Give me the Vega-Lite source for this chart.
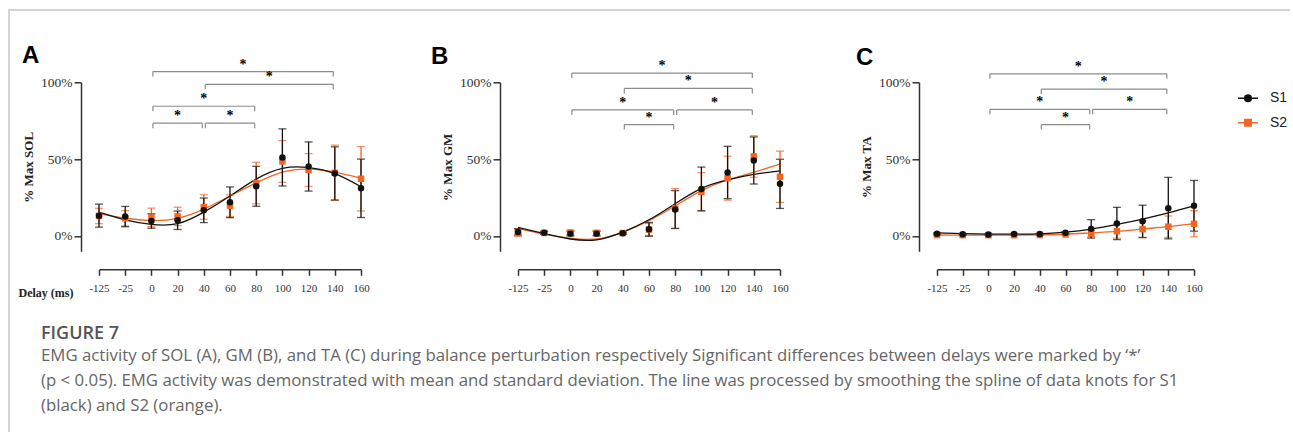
{
  "$schema": "https://vega.github.io/schema/vega-lite/v6.json",
  "background": "white",
  "padding": {"left": 8, "top": 9, "right": 0, "bottom": 0},
  "config": {
    "view": {"stroke": null},
    "font": "Liberation Serif",
    "axis": {
      "domainColor": "#333333", "domainWidth": 1.5, "tickColor": "#333333", "tickWidth": 1.5,
      "labelFont": "Liberation Serif", "labelColor": "#333333", "grid": false,
      "titleFont": "Liberation Serif", "titleFontWeight": "bold", "titleColor": "#222222"
    }
  },
  "datasets": {
    "points": [
      {"panel": "A", "group": "S2", "delay": -125, "mean": 13.0, "sd": 5.0},
      {"panel": "A", "group": "S2", "delay": -25, "mean": 11.5, "sd": 5.0},
      {"panel": "A", "group": "S2", "delay": 0, "mean": 12.1, "sd": 6.0},
      {"panel": "A", "group": "S2", "delay": 20, "mean": 12.7, "sd": 6.0},
      {"panel": "A", "group": "S2", "delay": 40, "mean": 18.8, "sd": 8.0},
      {"panel": "A", "group": "S2", "delay": 60, "mean": 19.7, "sd": 7.0},
      {"panel": "A", "group": "S2", "delay": 80, "mean": 34.4, "sd": 13.5},
      {"panel": "A", "group": "S2", "delay": 100, "mean": 48.5, "sd": 13.6},
      {"panel": "A", "group": "S2", "delay": 120, "mean": 42.9, "sd": 10.7},
      {"panel": "A", "group": "S2", "delay": 140, "mean": 41.1, "sd": 18.0},
      {"panel": "A", "group": "S2", "delay": 160, "mean": 37.2, "sd": 21.0},
      {"panel": "A", "group": "S1", "delay": -125, "mean": 13.2, "sd": 7.5},
      {"panel": "A", "group": "S1", "delay": -25, "mean": 12.6, "sd": 6.6},
      {"panel": "A", "group": "S1", "delay": 0, "mean": 9.7, "sd": 4.7},
      {"panel": "A", "group": "S1", "delay": 20, "mean": 10.2, "sd": 6.0},
      {"panel": "A", "group": "S1", "delay": 40, "mean": 16.7, "sd": 8.0},
      {"panel": "A", "group": "S1", "delay": 60, "mean": 21.9, "sd": 10.0},
      {"panel": "A", "group": "S1", "delay": 80, "mean": 32.3, "sd": 13.0},
      {"panel": "A", "group": "S1", "delay": 100, "mean": 51.1, "sd": 18.6},
      {"panel": "A", "group": "S1", "delay": 120, "mean": 45.2, "sd": 16.0},
      {"panel": "A", "group": "S1", "delay": 140, "mean": 40.7, "sd": 17.3},
      {"panel": "A", "group": "S1", "delay": 160, "mean": 31.0, "sd": 19.0},
      {"panel": "B", "group": "S2", "delay": -125, "mean": 2.2, "sd": 2.5},
      {"panel": "B", "group": "S2", "delay": -25, "mean": 2.0, "sd": 1.0},
      {"panel": "B", "group": "S2", "delay": 0, "mean": 2.2, "sd": 1.5},
      {"panel": "B", "group": "S2", "delay": 20, "mean": 2.0, "sd": 1.5},
      {"panel": "B", "group": "S2", "delay": 40, "mean": 1.9, "sd": 0.6},
      {"panel": "B", "group": "S2", "delay": 60, "mean": 4.1, "sd": 4.0},
      {"panel": "B", "group": "S2", "delay": 80, "mean": 17.8, "sd": 13.0},
      {"panel": "B", "group": "S2", "delay": 100, "mean": 28.7, "sd": 12.5},
      {"panel": "B", "group": "S2", "delay": 120, "mean": 37.6, "sd": 14.3},
      {"panel": "B", "group": "S2", "delay": 140, "mean": 51.7, "sd": 13.5},
      {"panel": "B", "group": "S2", "delay": 160, "mean": 38.5, "sd": 16.7},
      {"panel": "B", "group": "S1", "delay": -125, "mean": 2.6, "sd": 2.0},
      {"panel": "B", "group": "S1", "delay": -25, "mean": 2.0, "sd": 1.0},
      {"panel": "B", "group": "S1", "delay": 0, "mean": 1.5, "sd": 1.5},
      {"panel": "B", "group": "S1", "delay": 20, "mean": 1.5, "sd": 1.5},
      {"panel": "B", "group": "S1", "delay": 40, "mean": 1.7, "sd": 0.6},
      {"panel": "B", "group": "S1", "delay": 60, "mean": 4.3, "sd": 4.5},
      {"panel": "B", "group": "S1", "delay": 80, "mean": 17.2, "sd": 12.3},
      {"panel": "B", "group": "S1", "delay": 100, "mean": 30.6, "sd": 14.2},
      {"panel": "B", "group": "S1", "delay": 120, "mean": 41.3, "sd": 17.0},
      {"panel": "B", "group": "S1", "delay": 140, "mean": 49.1, "sd": 15.3},
      {"panel": "B", "group": "S1", "delay": 160, "mean": 33.9, "sd": 16.0},
      {"panel": "C", "group": "S2", "delay": -125, "mean": 0.6, "sd": 0.3},
      {"panel": "C", "group": "S2", "delay": -25, "mean": 0.5, "sd": 0.3},
      {"panel": "C", "group": "S2", "delay": 0, "mean": 0.5, "sd": 0.3},
      {"panel": "C", "group": "S2", "delay": 20, "mean": 0.5, "sd": 0.3},
      {"panel": "C", "group": "S2", "delay": 40, "mean": 0.6, "sd": 0.3},
      {"panel": "C", "group": "S2", "delay": 60, "mean": 1.0, "sd": 0.6},
      {"panel": "C", "group": "S2", "delay": 80, "mean": 1.6, "sd": 2.0},
      {"panel": "C", "group": "S2", "delay": 100, "mean": 3.1, "sd": 4.5},
      {"panel": "C", "group": "S2", "delay": 120, "mean": 4.4, "sd": 5.5},
      {"panel": "C", "group": "S2", "delay": 140, "mean": 6.0, "sd": 7.0},
      {"panel": "C", "group": "S2", "delay": 160, "mean": 7.9, "sd": 8.5},
      {"panel": "C", "group": "S1", "delay": -125, "mean": 1.5, "sd": 0.5},
      {"panel": "C", "group": "S1", "delay": -25, "mean": 1.1, "sd": 0.4},
      {"panel": "C", "group": "S1", "delay": 0, "mean": 1.0, "sd": 0.4},
      {"panel": "C", "group": "S1", "delay": 20, "mean": 1.2, "sd": 0.4},
      {"panel": "C", "group": "S1", "delay": 40, "mean": 1.2, "sd": 0.4},
      {"panel": "C", "group": "S1", "delay": 60, "mean": 2.0, "sd": 0.8},
      {"panel": "C", "group": "S1", "delay": 80, "mean": 4.6, "sd": 6.0},
      {"panel": "C", "group": "S1", "delay": 100, "mean": 8.1, "sd": 10.5},
      {"panel": "C", "group": "S1", "delay": 120, "mean": 9.5, "sd": 10.5},
      {"panel": "C", "group": "S1", "delay": 140, "mean": 18.1, "sd": 20.0},
      {"panel": "C", "group": "S1", "delay": 160, "mean": 19.6, "sd": 16.5}
    ],
    "fits": [
      {"panel": "A", "group": "S2", "delay": -125, "fit": 14.5},
      {"panel": "A", "group": "S2", "delay": -25, "fit": 11.5},
      {"panel": "A", "group": "S2", "delay": 0, "fit": 10.0},
      {"panel": "A", "group": "S2", "delay": 20, "fit": 11.5},
      {"panel": "A", "group": "S2", "delay": 40, "fit": 17.5},
      {"panel": "A", "group": "S2", "delay": 60, "fit": 26.0},
      {"panel": "A", "group": "S2", "delay": 80, "fit": 34.5},
      {"panel": "A", "group": "S2", "delay": 100, "fit": 41.5},
      {"panel": "A", "group": "S2", "delay": 120, "fit": 43.5},
      {"panel": "A", "group": "S2", "delay": 140, "fit": 41.5},
      {"panel": "A", "group": "S2", "delay": 160, "fit": 37.5},
      {"panel": "A", "group": "S1", "delay": -125, "fit": 15.5},
      {"panel": "A", "group": "S1", "delay": -25, "fit": 10.5},
      {"panel": "A", "group": "S1", "delay": 0, "fit": 7.5},
      {"panel": "A", "group": "S1", "delay": 20, "fit": 8.0},
      {"panel": "A", "group": "S1", "delay": 40, "fit": 15.5},
      {"panel": "A", "group": "S1", "delay": 60, "fit": 26.0},
      {"panel": "A", "group": "S1", "delay": 80, "fit": 37.0},
      {"panel": "A", "group": "S1", "delay": 100, "fit": 44.0},
      {"panel": "A", "group": "S1", "delay": 120, "fit": 44.5},
      {"panel": "A", "group": "S1", "delay": 140, "fit": 40.5},
      {"panel": "A", "group": "S1", "delay": 160, "fit": 32.0},
      {"panel": "B", "group": "S2", "delay": -125, "fit": 5.0},
      {"panel": "B", "group": "S2", "delay": -25, "fit": 1.2},
      {"panel": "B", "group": "S2", "delay": 0, "fit": -1.5},
      {"panel": "B", "group": "S2", "delay": 20, "fit": -2.0},
      {"panel": "B", "group": "S2", "delay": 40, "fit": 2.5},
      {"panel": "B", "group": "S2", "delay": 60, "fit": 10.0},
      {"panel": "B", "group": "S2", "delay": 80, "fit": 19.5},
      {"panel": "B", "group": "S2", "delay": 100, "fit": 29.5},
      {"panel": "B", "group": "S2", "delay": 120, "fit": 36.5},
      {"panel": "B", "group": "S2", "delay": 140, "fit": 41.5},
      {"panel": "B", "group": "S2", "delay": 160, "fit": 46.7},
      {"panel": "B", "group": "S1", "delay": -125, "fit": 5.5},
      {"panel": "B", "group": "S1", "delay": -25, "fit": 1.5},
      {"panel": "B", "group": "S1", "delay": 0, "fit": -2.0},
      {"panel": "B", "group": "S1", "delay": 20, "fit": -2.5},
      {"panel": "B", "group": "S1", "delay": 40, "fit": 2.5},
      {"panel": "B", "group": "S1", "delay": 60, "fit": 10.5},
      {"panel": "B", "group": "S1", "delay": 80, "fit": 21.0},
      {"panel": "B", "group": "S1", "delay": 100, "fit": 31.0},
      {"panel": "B", "group": "S1", "delay": 120, "fit": 36.5},
      {"panel": "B", "group": "S1", "delay": 140, "fit": 40.0},
      {"panel": "B", "group": "S1", "delay": 160, "fit": 42.4},
      {"panel": "C", "group": "S2", "delay": -125, "fit": 0.6},
      {"panel": "C", "group": "S2", "delay": -25, "fit": 0.5},
      {"panel": "C", "group": "S2", "delay": 0, "fit": 0.5},
      {"panel": "C", "group": "S2", "delay": 20, "fit": 0.5},
      {"panel": "C", "group": "S2", "delay": 40, "fit": 0.7},
      {"panel": "C", "group": "S2", "delay": 60, "fit": 1.1},
      {"panel": "C", "group": "S2", "delay": 80, "fit": 2.0},
      {"panel": "C", "group": "S2", "delay": 100, "fit": 3.0},
      {"panel": "C", "group": "S2", "delay": 120, "fit": 4.5},
      {"panel": "C", "group": "S2", "delay": 140, "fit": 6.0},
      {"panel": "C", "group": "S2", "delay": 160, "fit": 8.0},
      {"panel": "C", "group": "S1", "delay": -125, "fit": 2.0},
      {"panel": "C", "group": "S1", "delay": -25, "fit": 1.5},
      {"panel": "C", "group": "S1", "delay": 0, "fit": 1.2},
      {"panel": "C", "group": "S1", "delay": 20, "fit": 1.2},
      {"panel": "C", "group": "S1", "delay": 40, "fit": 1.4},
      {"panel": "C", "group": "S1", "delay": 60, "fit": 2.5},
      {"panel": "C", "group": "S1", "delay": 80, "fit": 4.5},
      {"panel": "C", "group": "S1", "delay": 100, "fit": 7.5},
      {"panel": "C", "group": "S1", "delay": 120, "fit": 11.0},
      {"panel": "C", "group": "S1", "delay": 140, "fit": 15.0},
      {"panel": "C", "group": "S1", "delay": 160, "fit": 19.5}
    ],
    "brackets": [
      {"panel": "A", "from": 0, "to": 140, "level": 107},
      {"panel": "A", "from": 40, "to": 140, "level": 98.7},
      {"panel": "A", "from": 0, "to": 80, "level": 84.4},
      {"panel": "A", "from": 0, "to": 40, "level": 73.4},
      {"panel": "A", "from": 40, "to": 80, "level": 73.4},
      {"panel": "B", "from": 0, "to": 140, "level": 106},
      {"panel": "B", "from": 40, "to": 140, "level": 96},
      {"panel": "B", "from": 0, "to": 80, "level": 82},
      {"panel": "B", "from": 80, "to": 140, "level": 82},
      {"panel": "B", "from": 40, "to": 80, "level": 72.5},
      {"panel": "C", "from": 0, "to": 140, "level": 105.5},
      {"panel": "C", "from": 40, "to": 140, "level": 95.6},
      {"panel": "C", "from": 0, "to": 80, "level": 82.4},
      {"panel": "C", "from": 80, "to": 140, "level": 82.4},
      {"panel": "C", "from": 40, "to": 80, "level": 72.5}
    ]
  },
  "bounds": "flush",
  "spacing": 0,
  "hconcat": [
    {
      "width": 1, "height": 422,
      "view": {"stroke": "#d4d4d4", "strokeWidth": 2, "strokeDash": [1, 423, 422]},
      "data": {"values": []},
      "mark": "point",
      "encoding": {},
      "title": {
        "text": "FIGURE 7",
        "subtitle": [
          "EMG activity of SOL (A), GM (B), and TA (C) during balance perturbation respectively Significant differences between delays were marked by ‘*’",
          "(p < 0.05). EMG activity was demonstrated with mean and standard deviation. The line was processed by smoothing the spline of data knots for S1",
          "(black) and S2 (orange)."
        ],
        "orient": "bottom", "anchor": "start", "frame": "group", "offset": -107, "dx": 32, "limit": 0,
        "font": "Open Sans", "fontSize": 18, "fontWeight": 600, "color": "#555555",
        "subtitleFont": "Open Sans", "subtitleFontSize": 16.8, "subtitleColor": "#666666",
        "subtitleLineHeight": 25, "subtitlePadding": 5
      }
    },
    {
      "bounds": "flush",
      "spacing": 71.3,
      "vconcat": [
        {
          "width": 1280, "height": 1,
          "view": {"stroke": "#d4d4d4", "strokeWidth": 2, "strokeDash": [1280, 1282]},
          "data": {"values": []},
          "mark": "point",
          "encoding": {}
        },
        {
          "bounds": "flush",
          "spacing": 88,
          "hconcat": [
            {"width": 1, "height": 1, "data": {"values": []}, "mark": "point", "encoding": {}},
            {
              "bounds": "flush",
              "spacing": 157,
              "resolve": {"scale": {"color": "independent"}, "legend": {"color": "independent"}},
              "hconcat": [
                {
                  "width": 262, "height": 169,
                  "title": {"text": "A", "anchor": "start", "frame": "group", "font": "Liberation Sans", "fontSize": 24, "fontWeight": "bold", "color": "#000000", "dx": -77, "offset": -10},
                  "resolve": {"scale": {"x": "independent"}},
                  "layer": [
                    {
                      "layer": [
                        {
                          "data": {"name": "fits"}, "transform": [{"filter": "datum.panel === 'A'"}],
                          "mark": {"type": "line", "interpolate": "natural", "strokeWidth": 1.3},
                          "encoding": {
                            "x": {"field": "delay", "type": "ordinal", "scale": {"type": "point", "padding": 0}, "axis": {"offset": 18, "labelAngle": 0, "labelFontSize": 11, "tickSize": 6, "labelPadding": 7, "title": "Delay (ms)", "titleFontSize": 12, "titleX": -81, "titleY": 27, "titleAlign": "left", "titleBaseline": "alphabetic", "titleAnchor": "start"}},
                            "y": {"field": "fit", "type": "quantitative", "title": "% Max SOL", "scale": {"domain": [-10, 100], "nice": false, "zero": false}, "axis": {"offset": 18, "values": [0, 50, 100], "labelExpr": "datum.value + '%'", "labelFontSize": 13.5, "tickSize": 7, "labelPadding": 2, "titleFontSize": 13, "titlePadding": 5}},
                            "color": {"field": "group", "type": "nominal", "scale": {"domain": ["S1", "S2"], "range": ["#111111", "#f26522"]}, "legend": null}
                          }
                        },
                        {
                          "data": {"name": "brackets"}, "transform": [{"filter": "datum.panel === 'A'"}],
                          "mark": {"type": "rule", "color": "#8c8c8c", "strokeWidth": 1.2, "xOffset": 1.5, "x2Offset": -1.5},
                          "encoding": {"x": {"field": "from", "type": "ordinal"}, "x2": {"field": "to"}, "y": {"field": "level", "type": "quantitative", "title": "% Max SOL"}}
                        },
                        {
                          "data": {"name": "brackets"}, "transform": [{"filter": "datum.panel === 'A'"}],
                          "mark": {"type": "rule", "color": "#8c8c8c", "strokeWidth": 1.2, "xOffset": 1.5, "y2Offset": 5},
                          "encoding": {"x": {"field": "from", "type": "ordinal"}, "y": {"field": "level", "type": "quantitative", "title": "% Max SOL"}, "y2": {"field": "level"}}
                        },
                        {
                          "data": {"name": "brackets"}, "transform": [{"filter": "datum.panel === 'A'"}],
                          "mark": {"type": "rule", "color": "#8c8c8c", "strokeWidth": 1.2, "xOffset": -1.5, "y2Offset": 5},
                          "encoding": {"x": {"field": "to", "type": "ordinal"}, "y": {"field": "level", "type": "quantitative", "title": "% Max SOL"}, "y2": {"field": "level"}}
                        },
                        {
                          "data": {"name": "points"}, "transform": [{"filter": "datum.panel === 'A'"}],
                          "mark": {"type": "errorbar", "ticks": {"size": 8}, "thickness": 1.3},
                          "encoding": {"x": {"field": "delay", "type": "ordinal"}, "y": {"field": "mean", "type": "quantitative", "title": "% Max SOL"}, "yError": {"field": "sd"}, "color": {"field": "group", "type": "nominal"}}
                        },
                        {
                          "data": {"name": "points"}, "transform": [{"filter": "datum.panel === 'A' && datum.group === 'S2'"}],
                          "mark": {"type": "point", "shape": "square", "filled": true, "opacity": 1, "size": 42},
                          "encoding": {"x": {"field": "delay", "type": "ordinal"}, "y": {"field": "mean", "type": "quantitative", "title": "% Max SOL"}, "color": {"field": "group", "type": "nominal"}}
                        },
                        {
                          "data": {"name": "points"}, "transform": [{"filter": "datum.panel === 'A' && datum.group === 'S1'"}],
                          "mark": {"type": "point", "shape": "circle", "filled": true, "opacity": 1, "size": 42},
                          "encoding": {"x": {"field": "delay", "type": "ordinal"}, "y": {"field": "mean", "type": "quantitative", "title": "% Max SOL"}, "color": {"field": "group", "type": "nominal"}}
                        }
                      ]
                    },
                    {
                      "data": {"name": "brackets"},
                      "transform": [{"filter": "datum.panel === 'A'"}, {"calculate": "(indexof([-125,-25,0,20,40,60,80,100,120,140,160], datum.from) + indexof([-125,-25,0,20,40,60,80,100,120,140,160], datum.to)) / 2", "as": "mid"}],
                      "mark": {"type": "text", "text": "*", "font": "Liberation Serif", "fontWeight": "bold", "fontSize": 14, "baseline": "alphabetic", "dy": -3, "color": "#000000"},
                      "encoding": {"x": {"field": "mid", "type": "quantitative", "scale": {"domain": [0, 10], "nice": false, "zero": false}, "axis": null}, "y": {"field": "level", "type": "quantitative", "title": "% Max SOL"}}
                    }
                  ]
                },
                {
                  "width": 262, "height": 169,
                  "title": {"text": "B", "anchor": "start", "frame": "group", "font": "Liberation Sans", "fontSize": 24, "fontWeight": "bold", "color": "#000000", "dx": -87, "offset": -10},
                  "resolve": {"scale": {"x": "independent"}},
                  "layer": [
                    {
                      "layer": [
                        {
                          "data": {"name": "fits"}, "transform": [{"filter": "datum.panel === 'B'"}],
                          "mark": {"type": "line", "interpolate": "natural", "strokeWidth": 1.3},
                          "encoding": {
                            "x": {"field": "delay", "type": "ordinal", "scale": {"type": "point", "padding": 0}, "axis": {"offset": 18, "labelAngle": 0, "labelFontSize": 11, "tickSize": 6, "labelPadding": 7, "title": null}},
                            "y": {"field": "fit", "type": "quantitative", "title": "% Max GM", "scale": {"domain": [-10, 100], "nice": false, "zero": false}, "axis": {"offset": 18, "values": [0, 50, 100], "labelExpr": "datum.value + '%'", "labelFontSize": 13.5, "tickSize": 7, "labelPadding": 2, "titleFontSize": 13, "titlePadding": 5}},
                            "color": {"field": "group", "type": "nominal", "scale": {"domain": ["S1", "S2"], "range": ["#111111", "#f26522"]}, "legend": null}
                          }
                        },
                        {
                          "data": {"name": "brackets"}, "transform": [{"filter": "datum.panel === 'B'"}],
                          "mark": {"type": "rule", "color": "#8c8c8c", "strokeWidth": 1.2, "xOffset": 1.5, "x2Offset": -1.5},
                          "encoding": {"x": {"field": "from", "type": "ordinal"}, "x2": {"field": "to"}, "y": {"field": "level", "type": "quantitative", "title": "% Max GM"}}
                        },
                        {
                          "data": {"name": "brackets"}, "transform": [{"filter": "datum.panel === 'B'"}],
                          "mark": {"type": "rule", "color": "#8c8c8c", "strokeWidth": 1.2, "xOffset": 1.5, "y2Offset": 5},
                          "encoding": {"x": {"field": "from", "type": "ordinal"}, "y": {"field": "level", "type": "quantitative", "title": "% Max GM"}, "y2": {"field": "level"}}
                        },
                        {
                          "data": {"name": "brackets"}, "transform": [{"filter": "datum.panel === 'B'"}],
                          "mark": {"type": "rule", "color": "#8c8c8c", "strokeWidth": 1.2, "xOffset": -1.5, "y2Offset": 5},
                          "encoding": {"x": {"field": "to", "type": "ordinal"}, "y": {"field": "level", "type": "quantitative", "title": "% Max GM"}, "y2": {"field": "level"}}
                        },
                        {
                          "data": {"name": "points"}, "transform": [{"filter": "datum.panel === 'B'"}],
                          "mark": {"type": "errorbar", "ticks": {"size": 8}, "thickness": 1.3},
                          "encoding": {"x": {"field": "delay", "type": "ordinal"}, "y": {"field": "mean", "type": "quantitative", "title": "% Max GM"}, "yError": {"field": "sd"}, "color": {"field": "group", "type": "nominal"}}
                        },
                        {
                          "data": {"name": "points"}, "transform": [{"filter": "datum.panel === 'B' && datum.group === 'S2'"}],
                          "mark": {"type": "point", "shape": "square", "filled": true, "opacity": 1, "size": 42},
                          "encoding": {"x": {"field": "delay", "type": "ordinal"}, "y": {"field": "mean", "type": "quantitative", "title": "% Max GM"}, "color": {"field": "group", "type": "nominal"}}
                        },
                        {
                          "data": {"name": "points"}, "transform": [{"filter": "datum.panel === 'B' && datum.group === 'S1'"}],
                          "mark": {"type": "point", "shape": "circle", "filled": true, "opacity": 1, "size": 42},
                          "encoding": {"x": {"field": "delay", "type": "ordinal"}, "y": {"field": "mean", "type": "quantitative", "title": "% Max GM"}, "color": {"field": "group", "type": "nominal"}}
                        }
                      ]
                    },
                    {
                      "data": {"name": "brackets"},
                      "transform": [{"filter": "datum.panel === 'B'"}, {"calculate": "(indexof([-125,-25,0,20,40,60,80,100,120,140,160], datum.from) + indexof([-125,-25,0,20,40,60,80,100,120,140,160], datum.to)) / 2", "as": "mid"}],
                      "mark": {"type": "text", "text": "*", "font": "Liberation Serif", "fontWeight": "bold", "fontSize": 14, "baseline": "alphabetic", "dy": -3, "color": "#000000"},
                      "encoding": {"x": {"field": "mid", "type": "quantitative", "scale": {"domain": [0, 10], "nice": false, "zero": false}, "axis": null}, "y": {"field": "level", "type": "quantitative", "title": "% Max GM"}}
                    }
                  ]
                },
                {
                  "width": 257, "height": 169,
                  "title": {"text": "C", "anchor": "start", "frame": "group", "font": "Liberation Sans", "fontSize": 24, "fontWeight": "bold", "color": "#000000", "dx": -81, "offset": -10},
                  "resolve": {"scale": {"x": "independent"}},
                  "layer": [
                    {
                      "layer": [
                        {
                          "data": {"name": "fits"}, "transform": [{"filter": "datum.panel === 'C'"}],
                          "mark": {"type": "line", "interpolate": "natural", "strokeWidth": 1.3},
                          "encoding": {
                            "x": {"field": "delay", "type": "ordinal", "scale": {"type": "point", "padding": 0}, "axis": {"offset": 18, "labelAngle": 0, "labelFontSize": 11, "tickSize": 6, "labelPadding": 7, "title": null}},
                            "y": {"field": "fit", "type": "quantitative", "title": "% Max TA", "scale": {"domain": [-10, 100], "nice": false, "zero": false}, "axis": {"offset": 18, "values": [0, 50, 100], "labelExpr": "datum.value + '%'", "labelFontSize": 13.5, "tickSize": 7, "labelPadding": 2, "titleFontSize": 13, "titlePadding": 5}},
                            "color": {"field": "group", "type": "nominal", "scale": {"domain": ["S1", "S2"], "range": ["#111111", "#f26522"]},
                              "legend": {"orient": "none", "legendX": 300, "legendY": 5, "title": null, "labelFont": "Liberation Sans", "labelFontSize": 14, "labelColor": "#222222", "symbolSize": 400, "labelOffset": 11, "rowPadding": 6.5,
                                "encode": {"symbols": {"update": {
                                  "shape": {"signal": "datum.value === 'S1' ? 'M-1,0H1M0.33,0A0.33,0.33,0,1,1,-0.33,0A0.33,0.33,0,1,1,0.33,0Z' : 'M-1,0H1M-0.32,-0.32H0.32V0.32H-0.32Z'"},
                                  "fill": {"signal": "datum.value === 'S1' ? '#111111' : '#f26522'"},
                                  "stroke": {"signal": "datum.value === 'S1' ? '#111111' : '#f26522'"},
                                  "strokeWidth": {"value": 1.5},
                                  "opacity": {"value": 1}
                                }}}}
                            }
                          }
                        },
                        {
                          "data": {"name": "brackets"}, "transform": [{"filter": "datum.panel === 'C'"}],
                          "mark": {"type": "rule", "color": "#8c8c8c", "strokeWidth": 1.2, "xOffset": 1.5, "x2Offset": -1.5},
                          "encoding": {"x": {"field": "from", "type": "ordinal"}, "x2": {"field": "to"}, "y": {"field": "level", "type": "quantitative", "title": "% Max TA"}}
                        },
                        {
                          "data": {"name": "brackets"}, "transform": [{"filter": "datum.panel === 'C'"}],
                          "mark": {"type": "rule", "color": "#8c8c8c", "strokeWidth": 1.2, "xOffset": 1.5, "y2Offset": 5},
                          "encoding": {"x": {"field": "from", "type": "ordinal"}, "y": {"field": "level", "type": "quantitative", "title": "% Max TA"}, "y2": {"field": "level"}}
                        },
                        {
                          "data": {"name": "brackets"}, "transform": [{"filter": "datum.panel === 'C'"}],
                          "mark": {"type": "rule", "color": "#8c8c8c", "strokeWidth": 1.2, "xOffset": -1.5, "y2Offset": 5},
                          "encoding": {"x": {"field": "to", "type": "ordinal"}, "y": {"field": "level", "type": "quantitative", "title": "% Max TA"}, "y2": {"field": "level"}}
                        },
                        {
                          "data": {"name": "points"}, "transform": [{"filter": "datum.panel === 'C'"}],
                          "mark": {"type": "errorbar", "ticks": {"size": 8}, "thickness": 1.3},
                          "encoding": {"x": {"field": "delay", "type": "ordinal"}, "y": {"field": "mean", "type": "quantitative", "title": "% Max TA"}, "yError": {"field": "sd"}, "color": {"field": "group", "type": "nominal"}}
                        },
                        {
                          "data": {"name": "points"}, "transform": [{"filter": "datum.panel === 'C' && datum.group === 'S2'"}],
                          "mark": {"type": "point", "shape": "square", "filled": true, "opacity": 1, "size": 42},
                          "encoding": {"x": {"field": "delay", "type": "ordinal"}, "y": {"field": "mean", "type": "quantitative", "title": "% Max TA"}, "color": {"field": "group", "type": "nominal"}}
                        },
                        {
                          "data": {"name": "points"}, "transform": [{"filter": "datum.panel === 'C' && datum.group === 'S1'"}],
                          "mark": {"type": "point", "shape": "circle", "filled": true, "opacity": 1, "size": 42},
                          "encoding": {"x": {"field": "delay", "type": "ordinal"}, "y": {"field": "mean", "type": "quantitative", "title": "% Max TA"}, "color": {"field": "group", "type": "nominal"}}
                        }
                      ]
                    },
                    {
                      "data": {"name": "brackets"},
                      "transform": [{"filter": "datum.panel === 'C'"}, {"calculate": "(indexof([-125,-25,0,20,40,60,80,100,120,140,160], datum.from) + indexof([-125,-25,0,20,40,60,80,100,120,140,160], datum.to)) / 2", "as": "mid"}],
                      "mark": {"type": "text", "text": "*", "font": "Liberation Serif", "fontWeight": "bold", "fontSize": 14, "baseline": "alphabetic", "dy": -3, "color": "#000000"},
                      "encoding": {"x": {"field": "mid", "type": "quantitative", "scale": {"domain": [0, 10], "nice": false, "zero": false}, "axis": null}, "y": {"field": "level", "type": "quantitative", "title": "% Max TA"}}
                    }
                  ]
                }
              ]
            }
          ]
        }
      ]
    }
  ]
}
